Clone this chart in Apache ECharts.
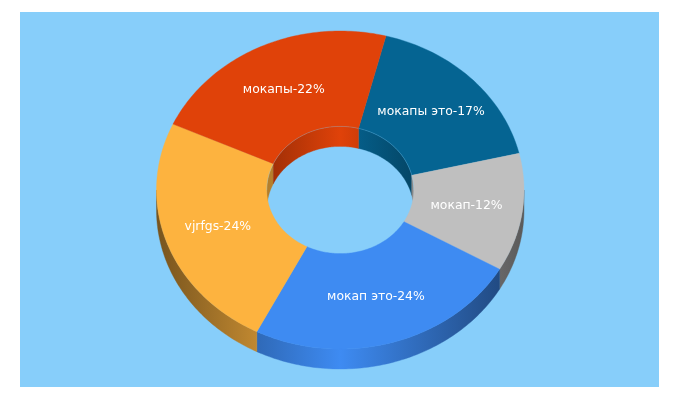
<!DOCTYPE html>
<html>
<head>
<meta charset="utf-8">
<style>html,body{margin:0;padding:0;background:#fff}#c{width:680px;height:400px}</style>
<script src="https://cdn.jsdelivr.net/npm/echarts@6/dist/echarts.min.js"></script>
</head>
<body>
<div id="c"></div>
<script>
var names = ['мокапы это', 'мокап', 'мокап это', 'vjrfgs', 'мокапы'];
var shares = [17.3, 12.0, 24.2, 24.3, 22.2];
var colors = ['#056492', '#BFBFBF', '#3E8BF2', '#FDB33F', '#E04209'];
var startAngle = 14.4;
var holeRatio = 0.4;
var labelRatio = 0.7;
var depth = 20;

var total = shares.reduce(function (a, b) { return a + b; }, 0);
var starts = [];
shares.reduce(function (acc, v, i) { starts[i] = acc; return acc + v / total * 360; }, startAngle);

function shade(hex, k) {
  var n = parseInt(hex.slice(1), 16);
  return 'rgb(' + Math.round((n >> 16 & 255) * k) + ',' + Math.round((n >> 8 & 255) * k) + ',' + Math.round((n & 255) * k) + ')';
}
function pt(api, r, deg, dy) {
  var t = deg * Math.PI / 180;
  var p = api.coord([r * Math.sin(t), r * Math.cos(t)]);
  return [p[0], p[1] + (dy || 0)];
}
function arc(api, r, a0, a1, dy) {
  var out = [], n = Math.max(2, Math.ceil(Math.abs(a1 - a0)));
  for (var i = 0; i <= n; i++) out.push(pt(api, r, a0 + (a1 - a0) * i / n, dy));
  return out;
}
function wall(api, r, a0, a1, fill) {
  var shape = { points: arc(api, r, a0, a1, 0).concat(arc(api, r, a1, a0, depth)) };
  return { type: 'polygon', shape: shape, style: { fill: fill, stroke: fill, lineWidth: 0.4 } };
}
function hGrad(x0, x1, color, edge) {
  return new echarts.graphic.LinearGradient(x0, 0, x1, 0, [
    { offset: 0, color: shade(color, edge) },
    { offset: 0.5, color: color },
    { offset: 1, color: shade(color, edge) }
  ], true);
}
function renderWalls(params, api) {
  var i = params.dataIndex, a0 = starts[i], a1 = a0 + api.value(0) / total * 360, kids = [];
  var L = api.coord([-1, 0])[0], R = api.coord([1, 0])[0];
  var iL = api.coord([-holeRatio, 0])[0], iR = api.coord([holeRatio, 0])[0];
  var lo = Math.max(a0, 90), hi = Math.min(a1, 270);
  if (hi > lo) kids.push(wall(api, 1, lo, hi, hGrad(L, R, colors[i], 0.47)));
  [[-90, 90], [270, 450]].forEach(function (w) {
    var l = Math.max(a0, w[0]), h = Math.min(a1, w[1]);
    if (h > l) kids.push(wall(api, holeRatio, l, h, hGrad(iL, iR, colors[i], 0.7)));
  });
  return { type: 'group', children: kids };
}
function renderTop(params, api) {
  var i = params.dataIndex, a0 = starts[i], a1 = a0 + api.value(0) / total * 360;
  var mid = (a0 + a1) / 2, lp = pt(api, labelRatio, mid, 0);
  var kids = [
    { type: 'polygon',
      shape: { points: arc(api, 1, a0, a1, 0).concat(arc(api, holeRatio, a1, a0, 0)) },
      style: { fill: colors[i], stroke: colors[i], lineWidth: 0.4 } }
  ];
  [[-90, 90], [270, 450]].forEach(function (w) {
    var l = Math.max(a0, w[0]), h = Math.min(a1, w[1]);
    if (h > l) kids.push({ type: 'polyline', shape: { points: arc(api, holeRatio, l, h, 0) },
      style: { fill: null, stroke: 'rgba(135,206,250,0.35)', lineWidth: 0.8 } });
  });
  kids.push({ type: 'text', x: lp[0] - 1, y: lp[1],
      style: { text: names[i] + '-' + Math.round(api.value(0)) + '%', fill: '#fff',
               font: '12.4px "DejaVu Sans"', textAlign: 'center', textVerticalAlign: 'middle' } });
  return { type: 'group', children: kids };
}
var rows = shares.map(function (v) { return [v]; });
var chart = echarts.init(document.getElementById('c'), null, { renderer: 'canvas' });
chart.setOption({
  animation: false,
  backgroundColor: '#ffffff',
  graphic: [{ type: 'rect', left: 20, top: 12, shape: { width: 639, height: 375 }, style: { fill: '#87CEFA' }, silent: true }],
  grid: { left: 156.5, top: 31, width: 367.5, height: 318, containLabel: false },
  xAxis: { type: 'value', min: -1, max: 1, show: false },
  yAxis: { type: 'value', min: -1, max: 1, show: false },
  series: [
    { type: 'custom', coordinateSystem: 'cartesian2d', clip: false, silent: true, z: 2, data: rows, renderItem: renderWalls, encode: { x: 0 } },
    { type: 'custom', coordinateSystem: 'cartesian2d', clip: false, silent: true, z: 3, data: rows, renderItem: renderTop, encode: { x: 0 } }
  ]
});
</script>
</body>
</html>
